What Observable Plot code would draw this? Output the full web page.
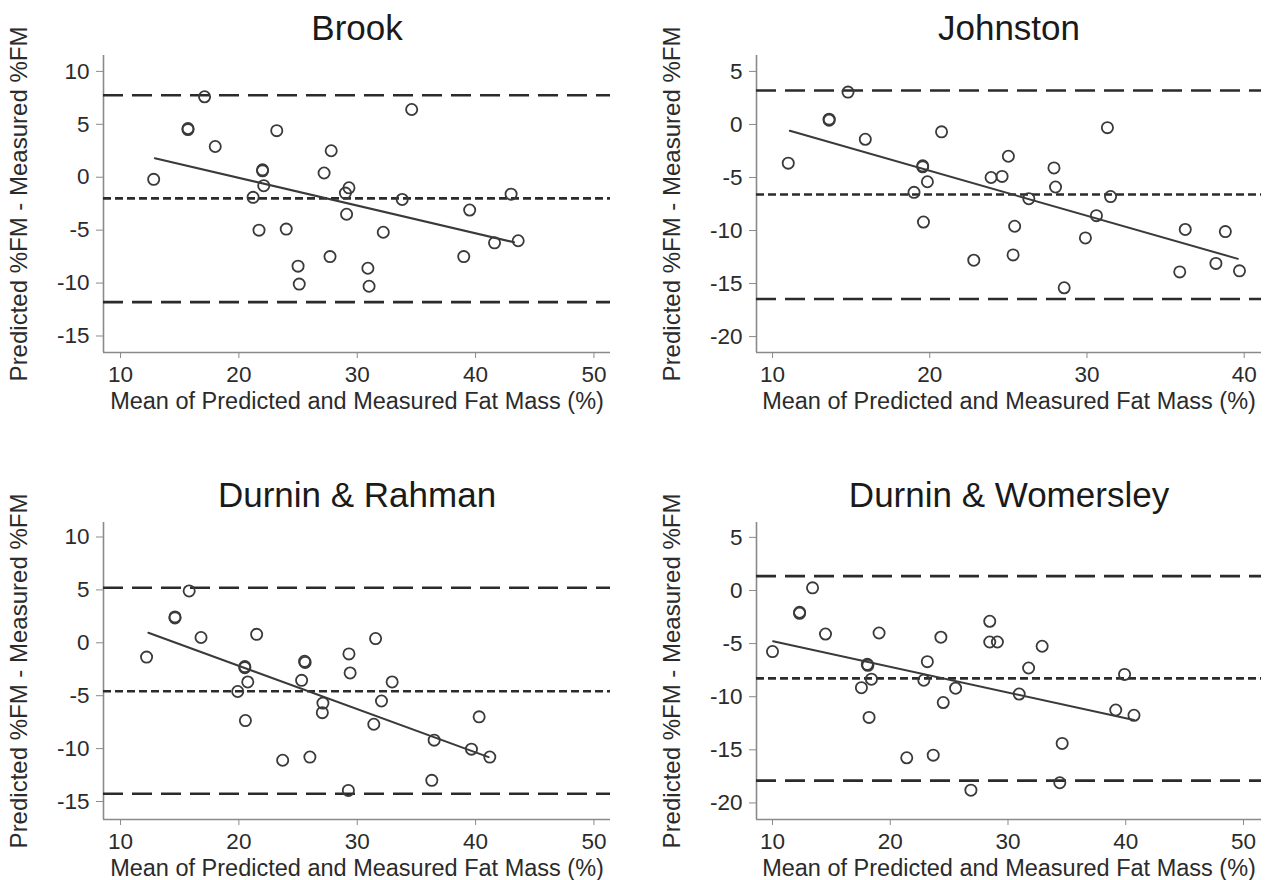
<!DOCTYPE html>
<html>
<head>
<meta charset="utf-8">
<script src="https://cdn.jsdelivr.net/npm/d3@7"></script>
<script src="https://cdn.jsdelivr.net/npm/@observablehq/plot@0.6"></script>
<style>
  html, body { margin: 0; padding: 0; background: #fff; overflow: hidden; }
  #root { position: relative; width: 1276px; height: 880px; }
  .panel { position: absolute; }
</style>
</head>
<body>
<div id="root"></div>
<script>
// ---------- DATA ----------
const titles = ["Brook", "Johnston", "Durnin & Rahman", "Durnin & Womersley"];
const xLabel = "Mean of Predicted and Measured Fat Mass (%)";
const yLabel = "Predicted %FM - Measured %FM";

const brookX = [12.8,15.7,15.7,17.1,18.0,23.2,22.0,22.0,22.1,21.2,21.7,24.0,25.0,25.1,27.2,27.8,29.3,29.0,29.1,27.7,33.8,32.2,30.9,31.0,34.6,39.5,39.0,41.6,43.6,43.0];
const brookY = [-0.2,4.6,4.5,7.6,2.9,4.4,0.7,0.6,-0.8,-1.9,-5.0,-4.9,-8.4,-10.1,0.4,2.5,-1.0,-1.5,-3.5,-7.5,-2.1,-5.2,-8.6,-10.3,6.4,-3.1,-7.5,-6.2,-6.0,-1.6];

const johnstonX = [11.0,13.6,13.6,14.8,15.9,20.75,19.55,19.55,19.85,19.0,19.6,31.3,25.0,23.9,24.6,27.9,28.0,26.3,31.5,30.6,25.4,25.3,22.8,29.9,28.55,36.25,38.8,35.9,38.2,39.7];
const johnstonY = [-3.65,0.5,0.4,3.05,-1.4,-0.7,-3.9,-4.0,-5.4,-6.4,-9.2,-0.3,-3.0,-5.0,-4.9,-4.1,-5.9,-7.0,-6.8,-8.6,-9.6,-12.3,-12.8,-10.7,-15.4,-9.9,-10.1,-13.9,-13.1,-13.8];

const rahmanX = [12.2,15.8,14.6,14.6,16.8,21.5,20.5,20.5,20.75,19.9,20.55,23.7,26.0,25.55,25.6,25.3,27.1,27.05,29.3,29.4,31.55,32.95,32.05,31.4,29.25,36.5,36.3,40.3,39.65,41.2];
const rahmanY = [-1.35,4.9,2.45,2.35,0.5,0.8,-2.25,-2.35,-3.7,-4.6,-7.35,-11.1,-10.8,-1.75,-1.85,-3.55,-5.7,-6.6,-1.05,-2.85,0.4,-3.7,-5.5,-7.7,-13.95,-9.2,-13.0,-7.0,-10.05,-10.8];

const womersleyX = [10.0,13.4,12.3,12.3,14.5,19.05,18.05,18.1,18.4,17.55,18.2,21.4,23.65,24.3,23.15,22.85,24.5,25.55,28.45,28.45,29.1,32.9,31.75,30.95,34.6,34.4,26.85,39.9,39.15,40.7];
const womersleyY = [-5.75,0.25,-2.05,-2.15,-4.1,-4.0,-6.95,-7.05,-8.35,-9.15,-11.95,-15.75,-15.5,-4.4,-6.7,-8.45,-10.55,-9.2,-2.9,-4.85,-4.85,-5.25,-7.3,-9.75,-14.4,-18.1,-18.8,-7.9,-11.25,-11.75];

// mean difference and limits of agreement per panel
const meanDiff = [-2.0, -6.6, -4.58, -8.27];
const upperLoA = [7.75, 3.2, 5.2, 1.35];
const lowerLoA = [-11.8, -16.45, -14.27, -17.9];

// regression line end points per panel [x1, y1, x2, y2]
const regBrook = [12.9, 1.8, 43.25, -6.15];
const regJohnston = [11.1, -0.6, 39.6, -12.67];
const regRahman = [12.35, 0.95, 41.1, -10.8];
const regWomersley = [10.05, -4.78, 40.7, -12.2];

// axis domains and ticks
const xDomains = [[8.56, 51.4], [8.98, 41.1], [8.56, 51.4], [8.64, 51.53]];
const yDomains = [[-16.56, 11.5], [-21.5, 6.5], [-16.7, 11.37], [-21.56, 6.4]];
const xTicks = [[10,20,30,40,50], [10,20,30,40], [10,20,30,40,50], [10,20,30,40,50]];
const yTicks = [[-15,-10,-5,0,5,10], [-20,-15,-10,-5,0,5], [-15,-10,-5,0,5,10], [-20,-15,-10,-5,0,5]];

// ---------- LAYOUT ----------
const layout = [
  {left: 0,   top: 0,   width: 638, height: 440, mr: 28, mb: 88},
  {left: 653, top: 0,   width: 623, height: 440, mr: 15, mb: 88},
  {left: 0,   top: 467, width: 638, height: 413, mr: 28, mb: 61},
  {left: 653, top: 467, width: 623, height: 413, mr: 15, mb: 61}
];

const series = [[brookX, brookY], [johnstonX, johnstonY], [rahmanX, rahmanY], [womersleyX, womersleyY]];
const regs = [regBrook, regJohnston, regRahman, regWomersley];

const ink = "#2b2b2b";
const axisGrey = "#8a8a8a";
const font = "'Liberation Sans', Arial, Helvetica, sans-serif";
const fmt = d => String(d);

const root = document.getElementById("root");

series.forEach(([xs, ys], i) => {
  const L = layout[i];
  const pts = xs.map((x, k) => ({x, y: ys[k]}));
  const r = regs[i];
  const reg = [{x: r[0], y: r[1]}, {x: r[2], y: r[3]}];
  const chart = Plot.plot({
    width: L.width,
    height: L.height,
    marginLeft: 103,
    marginRight: L.mr,
    marginTop: 55,
    marginBottom: L.mb,
    style: {fontFamily: font, fontSize: "22px", color: ink, background: "#fff", overflow: "visible"},
    x: {domain: xDomains[i]},
    y: {domain: yDomains[i]},
    marks: [
      Plot.ruleX([xDomains[i][0]], {stroke: axisGrey, strokeWidth: 1.6}),
      Plot.ruleY([yDomains[i][0]], {stroke: axisGrey, strokeWidth: 1.6}),
      Plot.axisX({ticks: xTicks[i], tickFormat: fmt, tickSize: 6, tickPadding: 8, stroke: axisGrey, fill: ink, fontSize: 22.5, label: null}),
      Plot.axisY({ticks: yTicks[i], tickFormat: fmt, tickSize: 7, tickPadding: 7, stroke: axisGrey, fill: ink, fontSize: 22.5, label: null}),
      Plot.ruleY([upperLoA[i], lowerLoA[i]], {stroke: ink, strokeWidth: 2.6, strokeDasharray: "20,9"}),
      Plot.ruleY([meanDiff[i]], {stroke: ink, strokeWidth: 2.6, strokeDasharray: "8,4"}),
      Plot.line(reg, {x: "x", y: "y", stroke: "#3a3a3a", strokeWidth: 2}),
      Plot.dot(pts, {x: "x", y: "y", r: 5.6, stroke: "#3a3a3a", strokeWidth: 1.8, fill: "none"}),
      Plot.text([titles[i]], {frameAnchor: "top", dy: -27, fontSize: 35, fill: "#1a1a1a", lineAnchor: "middle", textAnchor: "middle"}),
      Plot.text([xLabel], {frameAnchor: "bottom", dy: 49, fontSize: 23.5, fill: ink, lineAnchor: "middle", textAnchor: "middle"}),
      Plot.text([yLabel], {frameAnchor: "left", dx: -84, rotate: -90, fontSize: 24, fill: ink, lineAnchor: "middle", textAnchor: "middle"})
    ]
  });
  const wrap = document.createElement("div");
  wrap.className = "panel";
  wrap.style.left = L.left + "px";
  wrap.style.top = L.top + "px";
  wrap.appendChild(chart);
  root.appendChild(wrap);
});
</script>
</body>
</html>
